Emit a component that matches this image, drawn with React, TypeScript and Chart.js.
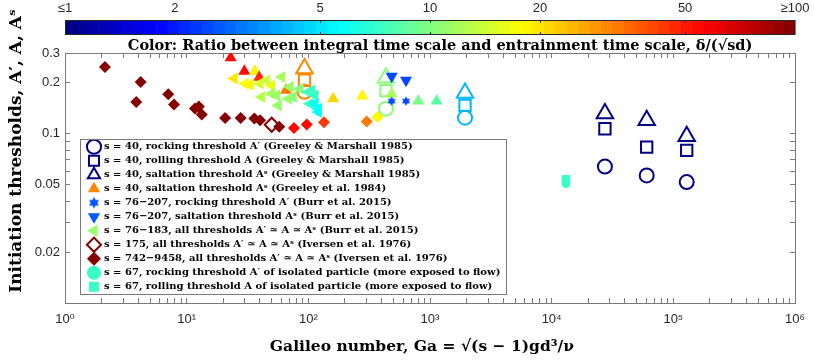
import React, { useEffect, useRef } from 'react';
import { Chart, registerables } from 'chart.js';

Chart.register(...registerables);

// ---------------- data ----------------
// Greeley & Marshall 1985, s = 40 (hollow markers)
const GM_GA = [93, 435, 1940, 27400, 60400, 128800];
const GM_ROCKING = [0.177, 0.1406, 0.1244, 0.064, 0.0567, 0.0518];
const GM_ROLLING = [0.207, 0.18, 0.147, 0.107, 0.0834, 0.0797];
const GM_SALTATION = [0.243, 0.214, 0.174, 0.1315, 0.12, 0.0967];
const GM_RATIO = [30, 10, 4, 1, 1, 1];

// Greeley et al. 1984, s = 40, saltation
const G84_GA = [23.0, 29.8, 36.4, 39.5, 65.5, 160, 278, 484, 801, 1135];
const G84_SALTATION = [0.281, 0.234, 0.234, 0.216, 0.181, 0.161, 0.167, 0.172, 0.156, 0.156];
const G84_RATIO = [56, 56, 19, 48, 32, 21, 19, 12, 9.5, 8.5];

// Burr et al. 2015
const BURR_GA = [484, 635];
const BURR_ROCKING = [0.156, 0.156];
const BURR_SALTATION = [0.219, 0.207];
const BURR_RATIO = [2.4, 2.4];

const BURR_ALL_GA = [24.6, 30.2, 33.2, 40.1, 45.5, 50.0, 60.4, 41.4, 50.0, 55.0, 56.6, 70.7, 75.2, 68.4, 85.4, 100, 106.6, 113.4, 103.2, 113.4, 120.8, 120.8];
const BURR_ALL_A = [0.212, 0.198, 0.195, 0.198, 0.207, 0.193, 0.2165, 0.165, 0.1725, 0.1686, 0.147, 0.189, 0.165, 0.161, 0.1846, 0.1765, 0.1804, 0.1686, 0.1505, 0.1505, 0.1406, 0.1344];
const BURR_ALL_RATIO = [20, 17, 18, 15, 14, 16, 12, 13, 12, 11, 11, 11, 10, 11, 10, 8, 7, 7, 7, 6, 6, 6];

// Iversen et al. 1976
const IV175_GA = [50.0];
const IV175_A = [0.113];
const IV175_RATIO = [100];

const IV_GA = [2.13, 4.19, 3.85, 7.06, 7.87, 11.7, 12.6, 13.3, 20.7, 27.8, 36.0, 40.1, 57.7, 76.2, 97, 134.5, 302, 371.5];
const IV_A = [0.248, 0.202, 0.154, 0.171, 0.149, 0.141, 0.145, 0.13, 0.124, 0.124, 0.123, 0.12, 0.11, 0.108, 0.1135, 0.117, 0.118, 0.1256];
const IV_RATIO = [100, 100, 100, 100, 100, 100, 100, 100, 100, 100, 100, 100, 100, 56, 56, 45, 32, 19];

// isolated particle, s = 67
const ISO_GA = [13100];
const ISO_ROCKING = [0.0507];
const ISO_ROLLING = [0.0538];
const ISO_RATIO = [7];

// legend
const LEGEND_TEXT = [
  's = 40, rocking threshold A′ (Greeley & Marshall 1985)',
  's = 40, rolling threshold A (Greeley & Marshall 1985)',
  's = 40, saltation threshold Aˢ (Greeley & Marshall 1985)',
  's = 40, saltation threshold Aˢ (Greeley et al. 1984)',
  's = 76−207, rocking threshold A′ (Burr et al. 2015)',
  's = 76−207, saltation threshold Aˢ (Burr et al. 2015)',
  's = 76−183, all thresholds A′ ≃ A ≃ Aˢ (Burr et al. 2015)',
  's = 175, all thresholds A′ ≃ A ≃ Aˢ (Iversen et al. 1976)',
  's = 742−9458, all thresholds A′ ≃ A ≃ Aˢ (Iversen et al. 1976)',
  's = 67, rocking threshold A′ of isolated particle (more exposed to flow)',
  's = 67, rolling threshold A of isolated particle (more exposed to flow)',
];
const LEGEND_RATIO = [1, 1, 1, 30, 2.6, 2.7, 11, 100, 100, 7, 7];

// ticks
const X_DECADES = [1, 10, 100, 1e3, 1e4, 1e5, 1e6];
const X_TICK_LABELS = ['10⁰', '10¹', '10²', '10³', '10⁴', '10⁵', '10⁶'];
const Y_TICKS = [0.02, 0.05, 0.1, 0.2, 0.3];
const Y_TICK_LABELS = ['0.02', '0.05', '0.1', '0.2', '0.3'];
const Y_MINOR = [0.01, 0.02, 0.03, 0.04, 0.05, 0.06, 0.07, 0.08, 0.09, 0.1, 0.2, 0.3];
const CB_TICKS = [1, 2, 5, 10, 20, 50, 100];
const CB_TICK_LABELS = ['≤1', '2', '5', '10', '20', '50', '≥100'];

const TITLE = 'Color: Ratio between integral time scale and entrainment time scale, δ/(√sd)';
const X_TITLE = 'Galileo number, Ga = √(s − 1)gd³/ν';
const Y_TITLE = 'Initiation thresholds, A′, A, Aˢ';

// ---------------- helpers ----------------
const SERIF = "'DejaVu Serif', 'Liberation Serif', serif";
const SANS = "'Liberation Sans', Arial, 'DejaVu Sans', sans-serif";
const AXIS = '#7a7a7a';
const TEXT = '#262626';
const NB = '\u00a0';

const clamp = (v: number) => Math.max(0, Math.min(1, v));
function jet(t: number): [number, number, number] {
  const r = clamp(Math.min(4 * t - 1.5, -4 * t + 4.5));
  const g = clamp(Math.min(4 * t - 0.5, -4 * t + 3.5));
  const b = clamp(Math.min(4 * t + 0.5, -4 * t + 2.5));
  return [Math.round(r * 255), Math.round(g * 255), Math.round(b * 255)];
}
function ratioColor(ratio: number): string {
  const t = clamp(Math.log10(ratio) / 2);
  const idx = Math.min(63, Math.floor(t * 64));
  const [r, g, b] = jet((idx + 0.5) / 64);
  return `rgb(${r},${g},${b})`;
}
const pts = (xs: number[], ys: number[]) => xs.map((x, i) => ({ x, y: ys[i] }));
const xMinor = () => {
  const out: number[] = [];
  for (let k = 0; k < X_DECADES.length - 1; k++) {
    for (let m = 1; m < 10; m++) out.push(m * X_DECADES[k]);
  }
  out.push(X_DECADES[X_DECADES.length - 1]);
  return out;
};
const near = (a: number, b: number) => Math.abs(Math.log10(a) - Math.log10(b)) < 1e-6;
const noPad = (s: any) => { s.paddingLeft = 0; s.paddingRight = 0; s.paddingTop = 0; s.paddingBottom = 0; };

function makeHexagram(color: string, size: number) {
  const c = document.createElement('canvas');
  c.width = size;
  c.height = size;
  const g = c.getContext('2d')!;
  const cx = size / 2, cy = size / 2;
  const R = size / 2 - 0.3, r = R / Math.sqrt(3);
  g.beginPath();
  for (let i = 0; i < 12; i++) {
    const a = -Math.PI / 2 + (i * Math.PI) / 6;
    const rr = i % 2 === 0 ? R : r;
    const px = cx + rr * Math.cos(a), py = cy + rr * Math.sin(a);
    if (i === 0) g.moveTo(px, py); else g.lineTo(px, py);
  }
  g.closePath();
  g.fillStyle = color;
  g.fill();
  return c;
}

const colorbarPlugin = {
  id: 'colorbar',
  afterDraw(chart: any) {
    const s = chart.scales.cb;
    if (!s) return;
    const ctx = chart.ctx;
    const x0 = s.getPixelForValue(CB_TICKS[0]);
    const x1 = s.getPixelForValue(CB_TICKS[CB_TICKS.length - 1]);
    const yb = s.bottom;
    const yt = yb - 15;
    const n = 64;
    const w = (x1 - x0) / n;
    ctx.save();
    for (let i = 0; i < n; i++) {
      const [r, g, b] = jet((i + 0.5) / n);
      ctx.fillStyle = `rgb(${r},${g},${b})`;
      ctx.fillRect(x0 + i * w, yt, w + 0.6, yb - yt);
    }
    ctx.strokeStyle = TEXT;
    ctx.lineWidth = 1;
    ctx.strokeRect(x0 + 0.5, yt + 0.5, x1 - x0 - 1, yb - yt - 1);
    ctx.beginPath();
    CB_TICKS.slice(1, -1).forEach((v) => {
      const x = Math.round(s.getPixelForValue(v)) + 0.5;
      ctx.moveTo(x, yt); ctx.lineTo(x, yt + 3);
      ctx.moveTo(x, yb); ctx.lineTo(x, yb - 3);
    });
    ctx.stroke();
    ctx.restore();
  },
};

const legendPlugin = {
  id: 'legendPlace',
  afterLayout(chart: any) {
    const lg = chart.legend;
    if (!lg) return;
    const ca = chart.chartArea;
    lg.left = ca.left + 20;
    lg.top = ca.top + 84.7;
    lg.right = lg.left + 700;
    lg.bottom = lg.top + 1000;
  },
  afterDraw(chart: any) {
    const lg = chart.legend;
    if (!lg || !lg.legendHitBoxes || !lg.legendHitBoxes.length) return;
    const hb = lg.legendHitBoxes;
    let right = 0;
    hb.forEach((h: any) => { right = Math.max(right, h.left + h.width); });
    const left = hb[0].left - 9.5;
    const top = hb[0].top - 2.4;
    const bottom = hb[hb.length - 1].top + 13;
    const ctx = chart.ctx;
    ctx.save();
    ctx.strokeStyle = AXIS;
    ctx.lineWidth = 1;
    ctx.strokeRect(Math.round(left) + 0.5, Math.round(top) + 0.5, Math.round(right + 5 - left), Math.round(bottom - top));
    ctx.restore();
  },
};

const yTitlePlugin = {
  id: 'yTitle',
  afterDraw(chart: any) {
    const ca = chart.chartArea;
    const ctx = chart.ctx;
    ctx.save();
    ctx.translate(17, ca.top + 98);
    ctx.rotate(-Math.PI / 2);
    ctx.font = `bold 17px ${SERIF}`;
    ctx.fillStyle = '#000';
    ctx.textAlign = 'center';
    ctx.textBaseline = 'middle';
    ctx.fillText(Y_TITLE, 0, 0);
    ctx.restore();
  },
};

export default function App() {
  const ref = useRef<HTMLCanvasElement>(null);

  useEffect(() => {
    const canvas = ref.current;
    if (!canvas) return;
    const hexData = makeHexagram(ratioColor(BURR_RATIO[0]), 10);
    const hexLegend = makeHexagram(ratioColor(LEGEND_RATIO[4]), 12);
    const hollow = 'rgba(0,0,0,0)';

    const legendStyles: any[] = [
      { style: 'circle', rot: 0, filled: false },
      { style: 'rect', rot: 0, filled: false },
      { style: 'triangle', rot: 0, filled: false },
      { style: 'triangle', rot: 0, filled: true },
      { style: hexLegend, rot: 0, filled: true },
      { style: 'triangle', rot: 180, filled: true },
      { style: 'triangle', rot: -90, filled: true },
      { style: 'rectRot', rot: 0, filled: false },
      { style: 'rectRot', rot: 0, filled: true },
      { style: 'circle', rot: 0, filled: true },
      { style: 'rect', rot: 0, filled: true },
    ];

    const filled = (ratios: number[]) => ({
      pointBackgroundColor: ratios.map(ratioColor),
      pointBorderColor: ratios.map(ratioColor),
      pointBorderWidth: 0,
    });
    const open = (ratios: number[]) => ({
      pointBackgroundColor: hollow,
      pointBorderColor: ratios.map(ratioColor),
      pointBorderWidth: 2,
    });

    const datasets: any[] = [
      { label: LEGEND_TEXT[0], data: pts(GM_GA, GM_ROCKING), pointStyle: 'circle', pointRadius: 7, ...open(GM_RATIO), order: 11 },
      { label: LEGEND_TEXT[1], data: pts(GM_GA, GM_ROLLING), pointStyle: 'rect', pointRadius: 8, ...open(GM_RATIO), order: 10 },
      { label: LEGEND_TEXT[2], data: pts(GM_GA, GM_SALTATION), pointStyle: 'triangle', pointRadius: 9.5, ...open(GM_RATIO), order: 9 },
      { label: LEGEND_TEXT[3], data: pts(G84_GA, G84_SALTATION), pointStyle: 'triangle', pointRadius: 7, ...filled(G84_RATIO), order: 8 },
      { label: LEGEND_TEXT[4], data: pts(BURR_GA, BURR_ROCKING), pointStyle: hexData, pointRadius: 5, ...filled(BURR_RATIO), order: 7 },
      { label: LEGEND_TEXT[5], data: pts(BURR_GA, BURR_SALTATION), pointStyle: 'triangle', pointRotation: 180, pointRadius: 7, ...filled(BURR_RATIO), order: 6 },
      { label: LEGEND_TEXT[6], data: pts(BURR_ALL_GA, BURR_ALL_A), pointStyle: 'triangle', pointRotation: -90, pointRadius: 7, ...filled(BURR_ALL_RATIO), order: 5 },
      { label: LEGEND_TEXT[7], data: pts(IV175_GA, IV175_A), pointStyle: 'rectRot', pointRadius: 7, ...open(IV175_RATIO), order: 4 },
      { label: LEGEND_TEXT[8], data: pts(IV_GA, IV_A), pointStyle: 'rectRot', pointRadius: 6, ...filled(IV_RATIO), order: 3 },
      { label: LEGEND_TEXT[9], data: pts(ISO_GA, ISO_ROCKING), pointStyle: 'circle', pointRadius: 4.5, ...filled(ISO_RATIO), order: 2 },
      { label: LEGEND_TEXT[10], data: pts(ISO_GA, ISO_ROLLING), pointStyle: 'rect', pointRadius: 6, ...filled(ISO_RATIO), order: 1 },
    ];

    const tickFont = { family: SANS, size: 13 };
    const innerGrid = { drawOnChartArea: false, drawTicks: true, tickLength: -5, tickColor: AXIS, color: AXIS };
    const axisBorder = { display: true, color: AXIS, width: 1 };
    const logX = { type: 'logarithmic', min: X_DECADES[0], max: X_DECADES[X_DECADES.length - 1] };
    const logY = { type: 'logarithmic', min: Y_MINOR[0], max: Y_MINOR[Y_MINOR.length - 1] };

    const chart = new Chart(canvas, {
      type: 'scatter',
      data: { datasets },
      options: {
        responsive: false,
        animation: false,
        events: [],
        layout: { padding: 0 },
        scales: {
          x: {
            ...logX,
            position: 'bottom',
            afterBuildTicks: (s: any) => { s.ticks = xMinor().map((v) => ({ value: v })); },
            afterFit: (s: any) => { s.height = 58; noPad(s); },
            ticks: {
              autoSkip: false, maxRotation: 0, padding: 14, color: TEXT, font: tickFont,
              callback: (v: any) => { const i = X_DECADES.findIndex((d) => near(d, v)); return i >= 0 ? X_TICK_LABELS[i] : ''; },
            },
            grid: innerGrid,
            border: axisBorder,
            title: { display: true, text: X_TITLE + NB + NB + NB, color: '#000', font: { family: SERIF, size: 15.5, weight: 'bold' }, padding: { top: 0, bottom: 5 } },
          },
          x2: {
            ...logX,
            position: 'top',
            afterBuildTicks: (s: any) => { s.ticks = xMinor().map((v) => ({ value: v })); },
            afterFit: (s: any) => { s.height = 0; noPad(s); },
            ticks: { display: false },
            grid: innerGrid,
            border: axisBorder,
          },
          cb: {
            type: 'logarithmic',
            position: 'top',
            axis: 'x',
            weight: 3000,
            min: CB_TICKS[0],
            max: CB_TICKS[CB_TICKS.length - 1],
            afterBuildTicks: (s: any) => { s.ticks = CB_TICKS.map((v) => ({ value: v })); },
            afterFit: (s: any) => { s.height = 35; noPad(s); },
            ticks: {
              autoSkip: false, maxRotation: 0, padding: 4, color: TEXT, font: tickFont,
              callback: (v: any) => { const i = CB_TICKS.findIndex((d) => near(d, v)); return i >= 0 ? CB_TICK_LABELS[i] : ''; },
            },
            grid: { drawOnChartArea: false, drawTicks: true, tickLength: 15, tickColor: 'rgba(0,0,0,0)', color: 'rgba(0,0,0,0)' },
            border: { display: false },
          },
          y: {
            ...logY,
            position: 'left',
            afterBuildTicks: (s: any) => { s.ticks = Y_MINOR.map((v) => ({ value: v })); },
            afterFit: (s: any) => { s.width = 65; noPad(s); },
            ticks: {
              autoSkip: false, padding: 10, color: TEXT, font: tickFont,
              callback: (v: any) => { const i = Y_TICKS.findIndex((d) => near(d, v)); return i >= 0 ? Y_TICK_LABELS[i] : ''; },
            },
            grid: innerGrid,
            border: axisBorder,
          },
          y2: {
            ...logY,
            position: 'right',
            afterBuildTicks: (s: any) => { s.ticks = Y_MINOR.map((v) => ({ value: v })); },
            afterFit: (s: any) => { s.width = 19; noPad(s); },
            ticks: { display: false },
            grid: innerGrid,
            border: axisBorder,
          },
        },
        plugins: {
          tooltip: { enabled: false },
          title: {
            display: true,
            position: 'top',
            fullSize: false,
            text: NB + NB + NB + NB + TITLE,
            color: '#000',
            font: { family: SERIF, size: 14.5, weight: 'bold', lineHeight: 1 },
            padding: { top: 3.5, bottom: 0 },
          },
          legend: {
            display: true,
            position: 'chartArea',
            align: 'start',
            labels: {
              usePointStyle: true,
              padding: 4,
              color: '#000',
              font: { family: SERIF, size: 10, weight: 'bold' },
              generateLabels: () =>
                LEGEND_TEXT.map((text, i) => {
                  const st = legendStyles[i];
                  const col = ratioColor(LEGEND_RATIO[i]);
                  return {
                    text,
                    datasetIndex: i,
                    hidden: false,
                    fontColor: '#000',
                    fillStyle: st.filled ? col : hollow,
                    strokeStyle: col,
                    lineWidth: st.filled ? 0 : 2,
                    pointStyle: st.style,
                    rotation: st.rot,
                  };
                }),
            },
          },
        },
      } as any,
      plugins: [colorbarPlugin, legendPlugin, yTitlePlugin],
    } as any);

    return () => chart.destroy();
  }, []);

  return (
    <div style={{ position: 'absolute', left: 0, top: 0, width: 814, height: 361 }}>
      <canvas ref={ref} width={814} height={361} style={{ display: 'block' }} />
    </div>
  );
}
